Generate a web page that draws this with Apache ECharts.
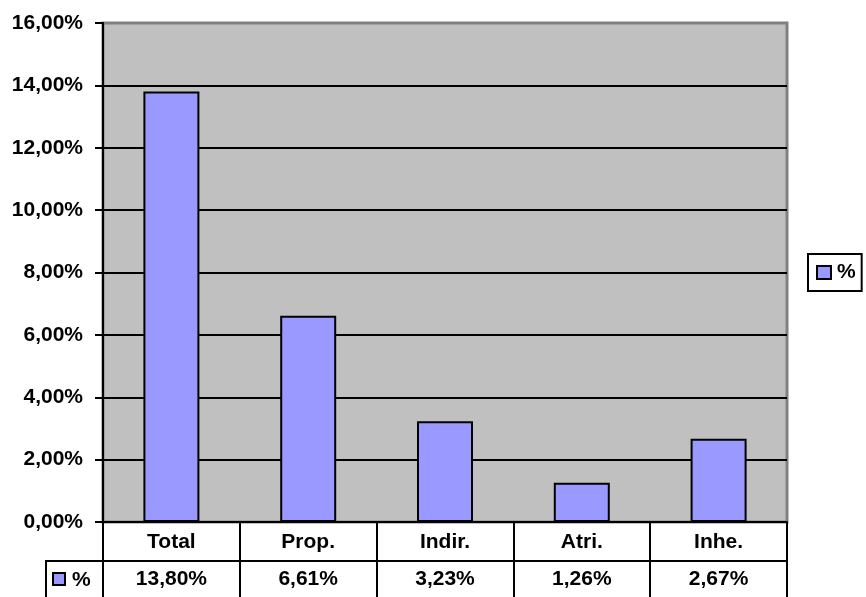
<!DOCTYPE html>
<html><head><meta charset="utf-8">
<script src="https://cdn.jsdelivr.net/npm/echarts@6/dist/echarts.min.js"></script>
<style>html,body{margin:0;padding:0;background:#fff}#c{width:866px;height:597px}</style>
</head><body><div id="c"></div>
<script>
const categories = ['Total', 'Prop.', 'Indir.', 'Atri.', 'Inhe.'];
const values = [13.80, 6.61, 3.23, 1.26, 2.67];
const seriesName = '%';
const yTicks = [0, 2, 4, 6, 8, 10, 12, 14, 16];

const FONT = '"Liberation Sans", Arial, sans-serif';
const fmt = v => v.toFixed(2).replace('.', ',') + '%';
const chart = echarts.init(document.getElementById('c'), null, {renderer: 'canvas'});
const labelStyle = {fontFamily: FONT, fontWeight: 'bold', fontSize: 21, color: '#000'};

chart.setOption({
  animation: false,
  backgroundColor: '#fff',
  grid: {left: 103, right: 79, top: 23, bottom: 75, show: true, backgroundColor: '#C0C0C0', borderColor: '#808080', borderWidth: 3},
  legend: {
    data: [{name: seriesName, icon: 'rect'}], left: 808, top: 254, orient: 'vertical',
    borderColor: '#000', borderWidth: 2, padding: [8, 6, 8, 8],
    itemWidth: 14, itemHeight: 13, itemGap: 4,
    textStyle: Object.assign({}, labelStyle, {padding: [0, 0, 0, 1]})
  },
  xAxis: [
    {type: 'category', data: categories, position: 'bottom',
     axisLine: {lineStyle: {color: '#000', width: 2}},
     axisTick: {show: true, length: 39, lineStyle: {color: '#000', width: 2}},
     axisLabel: Object.assign({margin: 10}, labelStyle)},
    {type: 'category', data: categories, position: 'bottom', offset: 39,
     axisLine: {show: true, lineStyle: {color: '#000', width: 2}},
     axisTick: {show: true, length: 40, lineStyle: {color: '#000', width: 2}},
     axisLabel: Object.assign({margin: 8, formatter: (v, i) => fmt(values[i])}, labelStyle)}
  ],
  yAxis: {
    type: 'value', min: yTicks[0], max: yTicks[yTicks.length - 1], interval: 2,
    axisLine: {show: true, lineStyle: {color: '#000', width: 2}},
    axisTick: {show: true, length: 8, lineStyle: {color: '#000', width: 2}},
    axisLabel: Object.assign({margin: 20, formatter: v => fmt(v)}, labelStyle),
    splitLine: {show: true, lineStyle: {color: ['#000','#000','#000','#000','#000','#000','#000','#000','#808080'], width: 2}}
  },
  series: [{
    name: seriesName, type: 'bar', data: values, barWidth: 56, xAxisIndex: 0,
    itemStyle: {color: '#9999FF', borderColor: '#000', borderWidth: 2}
  }],
  graphic: [
    {type: 'polyline', shape: {points: [[46, 600], [46, 561], [103, 561]]}, style: {stroke: '#000', lineWidth: 2, fill: null}},
    {type: 'rect', shape: {x: 53, y: 573, width: 12, height: 12}, style: {fill: '#9999FF', stroke: '#000', lineWidth: 2}},
    {type: 'text', style: {x: 72, y: 580, text: seriesName, verticalAlign: 'middle', font: 'bold 21px ' + FONT, fill: '#000'}}
  ]
});
</script></body></html>
